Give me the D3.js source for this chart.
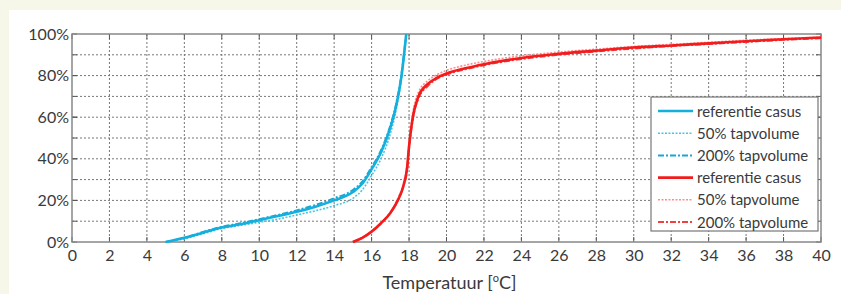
<!DOCTYPE html>
<html>
<head>
<meta charset="utf-8">
<script src="https://cdn.jsdelivr.net/npm/d3@7"></script>
<style>
  body { margin: 0; background: #f7f7e9; }
  svg { display: block; }
  text { font-family: Lato, "Open Sans", sans-serif; fill: #3a3a3a; }
</style>
</head>
<body>
<svg id="chart" width="841" height="294"></svg>
<script>
// blue curves (referentie casus, 50% tapvolume, 200% tapvolume)
var blueX    = [5, 6, 7, 8, 9, 10, 11, 12, 13, 14, 15, 15.5, 16, 16.5, 17, 17.3, 17.6, 17.85];
var blueRef  = [0, 2, 4.5, 7, 8.5, 10.5, 12.5, 14.5, 17, 20, 24, 28, 35, 43, 55, 65, 80, 100];
var blue50   = [0, 1.5, 4, 6.5, 8, 9.5, 11, 13, 15, 17.5, 21, 25, 32, 40, 52, 63, 79, 100];
var blue200  = [0, 2, 4.8, 7.3, 9, 11, 13, 15.2, 17.8, 21, 25, 29, 36, 44, 56, 66, 81, 100];

// red curves
var redX     = [15, 15.5, 16, 16.5, 17, 17.4, 17.7, 17.9, 18, 18.2, 18.5, 19, 19.5, 20, 21, 22, 24, 26, 28, 30, 32, 34, 36, 38, 40];
var redRef   = [0, 2, 5, 9, 14, 20, 27, 36, 46, 60, 70, 76, 79, 81, 83.5, 85.5, 88.5, 90.5, 92, 93.5, 94.5, 95.5, 96.5, 97.5, 98.3];
var red50    = [0, 2, 5, 9, 14, 21, 28, 38, 48, 62, 72, 77.5, 80.5, 82.5, 85, 86.8, 89.5, 91.3, 92.7, 94, 95, 96, 97, 97.8, 98.5];
var red200   = [0, 2, 5, 9, 14, 20, 27, 35, 45, 59, 69, 75, 78.5, 80.5, 83, 85, 88, 90, 91.6, 93, 94.2, 95.2, 96.2, 97.2, 98];

var xTicks = d3.range(0, 41, 2);
var yTicks = [0, 20, 40, 60, 80, 100];
var yGrid  = d3.range(10, 100, 10);

var legendLabels = ["referentie casus", "50% tapvolume", "200% tapvolume",
                    "referentie casus", "50% tapvolume", "200% tapvolume"];

var svg = d3.select("#chart");
var pLeft = 72, pRight = 821, pTop = 34, pBottom = 242;

svg.append("rect").attr("x", 9).attr("y", 10).attr("width", 832).attr("height", 284).attr("fill", "#fff");

var x = d3.scaleLinear().domain([0, 40]).range([pLeft, pRight]);
var y = d3.scaleLinear().domain([0, 100]).range([pBottom, pTop]);

// grid
svg.append("g").selectAll("line").data(xTicks.slice(1, -1)).enter().append("line")
	.attr("x1", d => x(d)).attr("x2", d => x(d))
	.attr("y1", pTop).attr("y2", pBottom)
	.attr("stroke", "#777").attr("stroke-width", 1).attr("stroke-dasharray", "2,2");
svg.append("g").selectAll("line").data(yGrid).enter().append("line")
	.attr("x1", pLeft).attr("x2", pRight)
	.attr("y1", d => y(d)).attr("y2", d => y(d))
	.attr("stroke", "#777").attr("stroke-width", 1).attr("stroke-dasharray", "2,2");

// axes
var xAxis = d3.axisBottom(x).tickValues(xTicks).tickSize(0).tickPadding(8);
var gx = svg.append("g").attr("transform", "translate(0," + pBottom + ")").call(xAxis);
gx.select(".domain").remove();
gx.selectAll("text").style("font-size", "16px").style("font-family", "Lato, sans-serif").attr("fill", "#3a3a3a");

var yAxis = d3.axisLeft(y).tickValues(yTicks).tickSize(0).tickPadding(3).tickFormat(d => d + "%");
var gy = svg.append("g").attr("transform", "translate(" + pLeft + ",0)").call(yAxis);
gy.select(".domain").remove();
gy.selectAll("text").style("font-size", "16px").style("font-family", "Lato, sans-serif").attr("fill", "#3a3a3a");

// small ticks on all sides
xTicks.forEach(function(d) {
	svg.append("line").attr("x1", x(d)).attr("x2", x(d)).attr("y1", pBottom).attr("y2", pBottom - 5).attr("stroke", "#555");
	svg.append("line").attr("x1", x(d)).attr("x2", x(d)).attr("y1", pTop).attr("y2", pTop + 5).attr("stroke", "#555");
});
yTicks.concat(yGrid).forEach(function(d) {
	svg.append("line").attr("x1", pLeft).attr("x2", pLeft + 5).attr("y1", y(d)).attr("y2", y(d)).attr("stroke", "#555");
	svg.append("line").attr("x1", pRight).attr("x2", pRight - 5).attr("y1", y(d)).attr("y2", y(d)).attr("stroke", "#555");
});

svg.append("rect").attr("x", pLeft).attr("y", pTop).attr("width", pRight - pLeft).attr("height", pBottom - pTop)
	.attr("fill", "none").attr("stroke", "#888").attr("stroke-width", 1.5);

// curves
var series = [
	{xs: blueX, ys: blue50,  color: "#45c6e6", dash: "2,1.5", w: 1.6},
	{xs: blueX, ys: blue200, color: "#1aa6d4", dash: "6,2,2,2", w: 2},
	{xs: blueX, ys: blueRef, color: "#14afdc", dash: null, w: 2.6},
	{xs: redX, ys: red50,  color: "#ff8c8c", dash: "2,1.5", w: 1.6},
	{xs: redX, ys: red200, color: "#f04040", dash: "6,2,2,2", w: 2},
	{xs: redX, ys: redRef, color: "#f21c1c", dash: null, w: 2.6}
];
var line = d3.line().curve(d3.curveMonotoneX);
series.forEach(function(s) {
	var pts = s.xs.map((v, i) => [x(v), y(s.ys[i])]);
	svg.append("path").attr("d", line(pts)).attr("fill", "none")
		.attr("stroke", s.color).attr("stroke-width", s.w)
		.attr("stroke-dasharray", s.dash);
});

// x label
var lab = svg.append("text").attr("x", x(20) + 3).attr("y", 289).attr("text-anchor", "middle").style("font-size", "18px");
lab.append("tspan").text("Temperatuur [");
lab.append("tspan").attr("dy", -7).style("font-size", "11px").text("o");
lab.append("tspan").attr("dy", 7).text("C]");

// legend
var lg = svg.append("g");
lg.append("rect").attr("x", 651).attr("y", 97).attr("width", 167).attr("height", 134)
	.attr("fill", "#fff").attr("stroke", "#777").attr("stroke-width", 1.2);
var legendStyles = [series[2], series[0], series[1], series[5], series[3], series[4]];
legendLabels.forEach(function(t, i) {
	var ly = 111 + i * 22.2;
	var s = legendStyles[i];
	lg.append("line").attr("x1", 658).attr("x2", 693).attr("y1", ly).attr("y2", ly)
		.attr("stroke", s.color).attr("stroke-width", s.w).attr("stroke-dasharray", s.dash);
	lg.append("text").attr("x", 697).attr("y", ly + 5.5).style("font-size", "15px").text(t);
});
</script>
</body>
</html>
